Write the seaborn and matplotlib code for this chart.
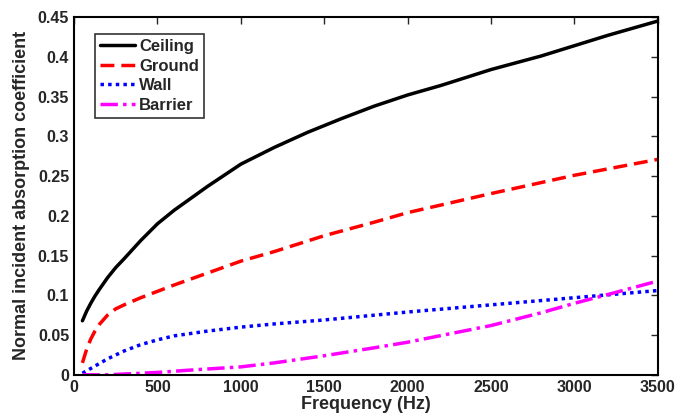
import numpy as np
import pandas as pd
import matplotlib
matplotlib.use('Agg')
import matplotlib.pyplot as plt
import seaborn as sns

# Values
freq_ceiling = [50, 75, 100, 125, 150, 200, 250, 300, 400, 500, 600, 700, 800, 900, 1000,
                1200, 1400, 1600, 1800, 2000, 2200, 2500, 2800, 3000, 3200, 3500]
ceiling = [0.068, 0.080, 0.090, 0.099, 0.107, 0.122, 0.135, 0.146, 0.169, 0.190, 0.207,
           0.222, 0.237, 0.251, 0.265, 0.286, 0.305, 0.322, 0.338, 0.352, 0.364, 0.384,
           0.401, 0.414, 0.427, 0.445]

freq_ground = [50, 75, 100, 125, 150, 200, 250, 300, 400, 500, 600, 800, 1000, 1200, 1500,
               1800, 2000, 2500, 3000, 3500]
ground = [0.015, 0.032, 0.045, 0.055, 0.063, 0.075, 0.083, 0.088, 0.097, 0.105, 0.113,
          0.128, 0.143, 0.155, 0.175, 0.192, 0.204, 0.228, 0.251, 0.271]

freq_wall = [50, 100, 150, 200, 300, 400, 500, 600, 800, 1000, 1200, 1500, 2000, 2500,
             3000, 3500]
wall = [0.002, 0.008, 0.014, 0.020, 0.030, 0.038, 0.044, 0.049, 0.055, 0.060, 0.064,
        0.069, 0.079, 0.088, 0.097, 0.106]

freq_barrier = [50, 200, 300, 500, 700, 1000, 1200, 1500, 1800, 2000, 2500, 2800, 3000,
                3200, 3500]
barrier = [0.0, 0.0, 0.001, 0.003, 0.006, 0.010, 0.015, 0.024, 0.034, 0.041, 0.062, 0.078,
           0.090, 0.101, 0.118]

labels = ['Ceiling', 'Ground', 'Wall', 'Barrier']
colors = ['black', 'red', 'blue', 'magenta']
dashes = ['-', (0, (4, 2)), (0, (1, 1.2)), (0, (5, 1.5, 1, 1.5))]

sns.set_style('white')
plt.rcParams['font.family'] = ['Liberation Sans', 'DejaVu Sans']
plt.rcParams['font.weight'] = 'bold'

fig, ax = plt.subplots(figsize=(6.86, 4.16), dpi=100)
fig.subplots_adjust(left=0.108, right=0.959, top=0.959, bottom=0.099)

series = [(freq_ceiling, ceiling), (freq_ground, ground), (freq_wall, wall), (freq_barrier, barrier)]
for (fx, fy), lab, col, ls in zip(series, labels, colors, dashes):
    df = pd.DataFrame({'f': fx, 'a': fy})
    sns.lineplot(data=df, x='f', y='a', ax=ax, color=col, linewidth=2.5, label=lab)
    ax.lines[-1].set_linestyle(ls)

ax.set_xlim(0, 3500)
ax.set_ylim(0, 0.45)
ax.set_xticks(np.arange(0, 3501, 500))
ax.set_yticks(np.arange(0, 0.451, 0.05))
ax.set_yticklabels(['0', '0.05', '0.1', '0.15', '0.2', '0.25', '0.3', '0.35', '0.4', '0.45'])
ax.tick_params(direction='in', top=True, right=True, length=5, width=1, labelsize=11.5)
for t in ax.get_xticklabels() + ax.get_yticklabels():
    t.set_fontweight('bold')
for sp in ax.spines.values():
    sp.set_linewidth(1.5)
    sp.set_color('black')

ax.set_xlabel('Frequency (Hz)', fontsize=13, fontweight='bold', labelpad=1)
ax.set_ylabel('Normal incident absorption coefficient', fontsize=13, fontweight='bold', labelpad=6)

leg = ax.legend(loc='upper left', bbox_to_anchor=(0.036, 0.953), borderaxespad=0,
                fontsize=12, frameon=True, fancybox=False, handlelength=2.1,
                handletextpad=0.25, borderpad=0.3, labelspacing=0.28)
leg.get_frame().set_edgecolor('black')
leg.get_frame().set_linewidth(1.2)
for t in leg.get_texts():
    t.set_fontweight('bold')

fig.savefig('out.png', dpi=100)
